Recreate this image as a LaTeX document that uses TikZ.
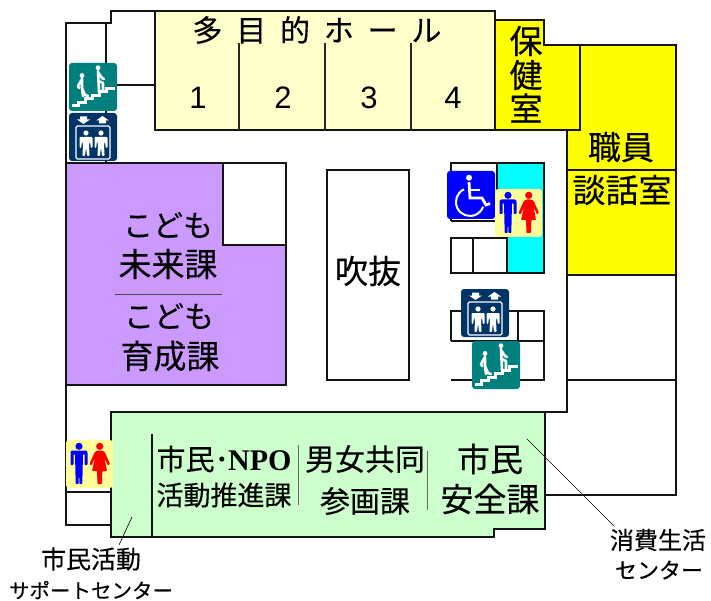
\documentclass[tikz,border=0pt]{standalone}
\usepackage{fontspec}
\setmainfont{Liberation Sans}
\newfontfamily\cjk[FakeBold=0.25]{Noto Sans CJK JP}
\newfontfamily\cjkwide[LetterSpace=46,FakeBold=0.25]{Noto Sans CJK JP}
\newfontfamily\npofont{Liberation Serif}
\newcommand{\fsz}[1]{\fontsize{#1}{#1}\selectfont}
\definecolor{hallcolor}{HTML}{FFFFCC}
\definecolor{healthcolor}{HTML}{FFFF00}
\definecolor{kidscolor}{HTML}{CC99FF}
\definecolor{civiccolor}{HTML}{CCFFCC}
\definecolor{corecolor}{HTML}{00FFFF}
\definecolor{staircolor}{HTML}{007F7F}
\definecolor{liftcolor}{HTML}{003366}
\definecolor{wccolor}{HTML}{FFFF99}
\definecolor{signblue}{HTML}{0000FF}
\definecolor{signred}{HTML}{FF0000}
\tikzset{
    wall/.style={draw=black!92, line width=2.5pt, line join=miter},
    thinwall/.style={draw=black!60, line width=1pt},
    leader/.style={draw=black, line width=0.6pt},
    room/.style={inner sep=0pt, align=center, text=black, font=\cjk},
    signwhite/.style={draw=white, line width=2.6pt, line cap=round, line join=round},
    stairsign/.pic={
        \fill[staircolor, rounded corners=3pt] (0,0) rectangle (48,48);
        \draw[signwhite, line cap=butt, line join=miter, line width=3pt]
            (3,43) -- (9,43) -- (9,39.5) -- (16,39.5) -- (16,36) -- (23,36)
            -- (23,32.5) -- (30,32.5) -- (30,29) -- (37,29) -- (37,25.5) -- (46,25.5);
        \fill[white] (13,12.5) circle (2.4) (29,4.7) circle (2.4);
        \draw[signwhite] (13,16) -- (13,25) -- (14,33) (13,25) -- (16,32) -- (19,33)
            (13,16) -- (9,23) -- (10,25);
        \draw[signwhite] (29,8) -- (29.5,18) -- (30,29) (29.5,18) -- (34,20) -- (34,28)
            (29,9) -- (33,15) -- (35,16);
    },
    liftsign/.pic={
        \fill[liftcolor, rounded corners=3pt] (0,0) rectangle (48,48);
        \fill[white] (11,3.5) -- (18,3.5) -- (18,6.5) -- (21,6.5) -- (14.5,11) -- (8,6.5) -- (11,6.5) -- cycle;
        \fill[white] (30,10.5) -- (37,10.5) -- (37,7.5) -- (40,7.5) -- (33.5,3) -- (27,7.5) -- (30,7.5) -- cycle;
        \draw[white, line width=1.1pt, rounded corners=1.5pt] (7,13) rectangle (41,46);
        \foreach \manx in {17,32}{
            \fill[white] (\manx,20) circle (2.6);
            \fill[white, rounded corners=1pt] (\manx-6.5,24) -- (\manx+6.5,24) -- (\manx+6.5,35)
                -- (\manx+4.8,35) -- (\manx+4,28) -- (\manx+3,32) -- (\manx+3.6,43) -- (\manx+1,43)
                -- (\manx,34) -- (\manx-1,43) -- (\manx-3.6,43) -- (\manx-3,32) -- (\manx-4,28)
                -- (\manx-4.8,35) -- (\manx-6.5,35) -- cycle;
        }
    },
    wcsign/.pic={
        \fill[wccolor, rounded corners=3pt] (0,0) rectangle (47,48);
        \fill[signblue] (13,6.3) circle (3.6);
        \fill[signblue, rounded corners=0.8pt] (5.5,10.5) -- (20.5,10.5) -- (21.5,12) -- (21.5,25) -- (18.5,25)
            -- (18.5,14) -- (17,14) -- (16.3,44) -- (13.4,44) -- (13,28) -- (12.6,44) -- (9.7,44)
            -- (9,14) -- (7.5,14) -- (7.5,25) -- (4.5,25) -- (4.5,12) -- cycle;
        \fill[signred] (33.7,6.3) circle (3.6);
        \fill[signred, rounded corners=0.8pt] (31,10.5) -- (36.5,10.5) -- (39,12.5) -- (44,24) -- (42,25.5)
            -- (38.5,18) -- (41,31) -- (36.3,31) -- (36,44) -- (31.4,44) -- (31.1,31) -- (26,31)
            -- (29,18) -- (25.5,25.5) -- (23.5,24) -- (28.5,12.5) -- cycle;
    },
    chairsign/.pic={
        \fill[signblue, rounded corners=3pt] (0,0) rectangle (48,48);
        \fill[white] (22,6.7) circle (3);
        \draw[signwhite, line width=2.8pt, line cap=butt, line join=miter]
            (22,11) -- (23,27) -- (35,27) -- (39,34) -- (43,32.5);
        \draw[signwhite, line width=2.4pt, line cap=butt] (22,19) -- (33,19);
        \draw[signwhite, line width=2pt, line cap=butt] (17,18.3) arc[start angle=115, end angle=340, radius=14pt];
    },
}
\begin{document}
\begin{tikzpicture}[x=1pt, y=-1pt]
    \useasboundingbox (0,0) rectangle (711,601);
    % outer walls
    \draw[wall] (155,11) -- (111,11) -- (111,23) -- (66,23) -- (66,525) -- (111,525);
    \draw[wall] (106,23) -- (106,163);
    \draw[wall] (106,85) -- (155,85);
    \draw[wall] (66,492) -- (111,492);
    \draw[wall] (567,130) -- (567,412) -- (111,412);
    \draw[wall] (676,275) -- (676,495) -- (545,495);
    \draw[wall] (567,275) -- (676,275);
    \draw[wall] (567,380) -- (676,380);
    % rooms
    \filldraw[wall, fill=hallcolor] (155,11) rectangle (495,130);
    \foreach \hallx in {239,325,411}
        \draw[draw=black!85, line width=1.2pt] (\hallx,43) -- (\hallx,130);
    \filldraw[wall, fill=healthcolor] (580,45) -- (676,45) -- (676,275) -- (567,275) -- (567,130) -- (580,130) -- cycle;
    \draw[wall] (567,170) -- (676,170);
    \filldraw[wall, fill=healthcolor] (495,20) -- (544,20) -- (544,45) -- (580,45) -- (580,130) -- (495,130) -- cycle;
    \filldraw[wall, fill=kidscolor] (66,163) rectangle (286,385);
    \filldraw[wall, fill=white] (223,163) rectangle (286,245);
    \draw[draw=black!70, line width=0.8pt] (115,294) -- (222,294);
    \draw[wall] (327,170) rectangle (409,380);
    % core
    \fill[corecolor] (497,163) rectangle (544,237);
    \fill[corecolor] (507,237) rectangle (544,273);
    \draw[wall] (497,221) -- (451,221);
    \draw[wall] (497,221) -- (497,163) -- (451,163) -- (451,221);
    \draw[wall] (497,163) -- (544,163) -- (544,273) -- (451,273) -- (451,238) -- (507,238) -- (507,273);
    \draw[wall] (473,238) -- (473,273);
    \draw[wall] (451,341) -- (451,311) -- (544,311) -- (544,380) -- (451,380);
    \draw[wall] (451,341) -- (544,341);
    \draw[wall] (518,311) -- (518,341);
    % civic wing
    \filldraw[wall, fill=civiccolor] (111,412) -- (545,412) -- (545,529) -- (494,529) -- (494,537) -- (111,537) -- cycle;
    \draw[wall] (152,434) -- (152,537);
    \draw[thinwall] (298,445) -- (298,505);
    \draw[thinwall] (427,451) -- (427,510);
    % signs
    \pic at (69,63) {stairsign};
    \pic at (69,113) {liftsign};
    \pic at (447,171) {chairsign};
    \pic at (495,189) {wcsign};
    \pic at (461,289) {liftsign};
    \pic at (472,341) {stairsign};
    \pic at (66,440) {wcsign};
    % room names
    \node[room, font=\cjkwide\fsz{30}] (hall) at (317,30) {多目的ホール};
    \node[room, font=\fsz{31}] (hallA) at (198,98) {1};
    \node[room, font=\fsz{31}] (hallB) at (283,98) {2};
    \node[room, font=\fsz{31}] (hallC) at (369,98) {3};
    \node[room, font=\fsz{31}] (hallD) at (453,98) {4};
    \node[room, font=\cjk\fsz{33}] (health) at (526,41) {保};
    \node[room, font=\cjk\fsz{33}] (healthB) at (526,75) {健};
    \node[room, font=\cjk\fsz{33}] (healthC) at (526,108) {室};
    \node[room, font=\cjk\fsz{33}] (staff) at (621,147) {職員};
    \node[room, font=\cjk\fsz{33}] (talk) at (622,190) {談話室};
    \node[room, font=\cjk\fsz{30}] (kidsA) at (168,225) {こども};
    \node[room, font=\cjk\fsz{33}] (kidsB) at (168,264) {未来課};
    \node[room, font=\cjk\fsz{30}] (kidsC) at (169,316) {こども};
    \node[room, font=\cjk\fsz{33}] (kidsD) at (170,356) {育成課};
    \node[room, font=\cjk\fsz{33}] (void) at (368,271) {吹抜};
    \node[room, font=\cjk\fsz{29}] (npo) at (224,459) {市民･\kern-1pt{\npofont\bfseries\fsz{30}NPO}};
    \node[room, font=\cjk\fsz{27}] (npoB) at (224,495) {活動推進課};
    \node[room, font=\cjk\fsz{30}] (equal) at (365,459) {男女共同};
    \node[room, font=\cjk\fsz{30}] (equalB) at (365,501) {参画課};
    \node[room, font=\cjk\fsz{33}] (safe) at (490,459) {市民};
    \node[room, font=\cjk\fsz{33}] (safeB) at (490,499) {安全課};
    % outside labels
    \node[room, font=\cjk\fsz{25}] (support) at (91,559) {市民活動};
    \node[room, font=\cjk\fsz{20.5}] (supportB) at (91,590) {サポートセンター};
    \node[room, font=\cjk\fsz{24}] (consumer) at (658,540) {消費生活};
    \node[room, font=\cjk\fsz{22}] (consumerB) at (659,570) {センター};
    \coordinate (supportEnd) at (132,517);
    \coordinate (supportTip) at (119,545);
    \coordinate (consumerEnd) at (527,439);
    \coordinate (consumerTip) at (614,526);
    \draw[leader] (supportEnd) -- (supportTip);
    \draw[leader] (consumerEnd) -- (consumerTip);
\end{tikzpicture}
\end{document}
